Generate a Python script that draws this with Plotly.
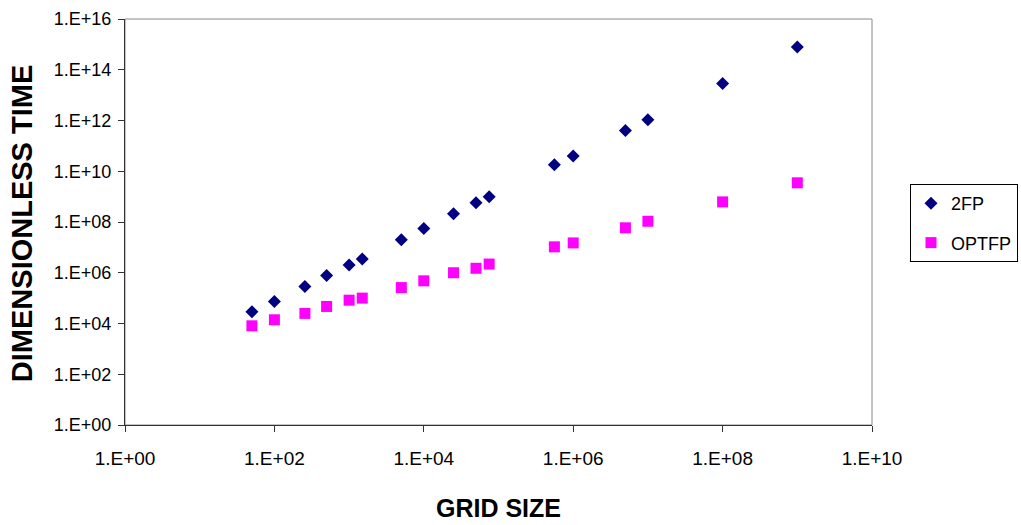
import plotly.graph_objects as go

grid_2fp = [50, 100, 256, 500, 1000, 1500, 5000, 10000, 25000, 50000, 75000,
            560000, 1000000, 5000000, 10000000, 100000000, 1000000000]
time_2fp = [2.9e4, 7.3e4, 2.9e5, 7.8e5, 2.0e6, 3.5e6, 2.0e7, 5.5e7, 2.1e8, 5.8e8, 1.0e9,
            1.8e10, 4.0e10, 4.0e11, 1.07e12, 2.9e13, 7.8e14]
grid_opt = grid_2fp
time_opt = [8.1e3, 1.4e4, 2.5e4, 4.7e4, 8.3e4, 1.0e5, 2.6e5, 4.8e5, 1.0e6, 1.5e6, 2.2e6,
            1.05e7, 1.5e7, 5.9e7, 1.07e8, 6.2e8, 3.5e9]

x_tick_vals = [1e0, 1e2, 1e4, 1e6, 1e8, 1e10]
x_tick_text = ["1.E+00", "1.E+02", "1.E+04", "1.E+06", "1.E+08", "1.E+10"]
y_tick_vals = [1e0, 1e2, 1e4, 1e6, 1e8, 1e10, 1e12, 1e14, 1e16]
y_tick_text = ["1.E+00", "1.E+02", "1.E+04", "1.E+06", "1.E+08", "1.E+10", "1.E+12", "1.E+14", "1.E+16"]

x_title = "GRID SIZE"
y_title = "DIMENSIONLESS TIME"

fig = go.Figure()
fig.add_trace(go.Scatter(x=grid_2fp, y=time_2fp, mode="markers", name="2FP", legendgroup="a",
                         marker=dict(symbol="diamond", size=10, color="#000080")))
fig.add_trace(go.Scatter(x=grid_opt, y=time_opt, mode="markers", name="OPTFP", legendgroup="b",
                         marker=dict(symbol="square", size=11, color="#FF00FF")))

fig.add_shape(type="rect", xref="paper", yref="paper", x0=0, x1=1, y0=0, y1=1,
              line=dict(color="#888888", width=1), layer="below")

fig.add_annotation(text="<b>" + x_title + "</b>", xref="paper", yref="paper", x=0.5, y=-0.205,
                   xanchor="center", yanchor="middle", showarrow=False,
                   font=dict(size=25, color="black", family="Arial, Liberation Sans"))
fig.add_annotation(text="<b>" + y_title + "</b>", xref="paper", yref="paper", x=-0.138, y=0.497,
                   xanchor="center", yanchor="middle", showarrow=False, textangle=-90,
                   font=dict(size=29, color="black", family="Arial, Liberation Sans"))

fig.update_layout(
    width=1021, height=525,
    margin=dict(l=125, r=149, t=19, b=100, autoexpand=False),
    paper_bgcolor="white", plot_bgcolor="white",
    font=dict(family="Arial, Liberation Sans", size=18, color="black"),
    showlegend=True,
    legend=dict(xref="container", yref="container", x=910/1021, y=1-184/525,
                xanchor="left", yanchor="top", font=dict(size=18),
                bordercolor="black", borderwidth=1, bgcolor="white",
                itemwidth=30, traceorder="grouped", tracegroupgap=13),
)

fig.update_xaxes(type="log", range=[0, 10], tickvals=x_tick_vals, ticktext=x_tick_text,
                 showgrid=False, zeroline=False, showline=True, linecolor="#333333", linewidth=1,
                 ticks="outside", ticklen=6, tickcolor="#333333", automargin=False,
                 ticklabelstandoff=10, tickfont=dict(size=19))
fig.update_yaxes(type="log", range=[0, 16], tickvals=y_tick_vals, ticktext=y_tick_text,
                 showgrid=False, zeroline=False, showline=True, linecolor="#333333", linewidth=1,
                 ticks="outside", ticklen=6, tickcolor="#333333", automargin=False,
                 ticklabelstandoff=3, tickfont=dict(size=18))

fig.write_html("out.html", config={"displayModeBar": False},
               post_script="document.body.style.margin='0';document.body.style.overflow='hidden';")
